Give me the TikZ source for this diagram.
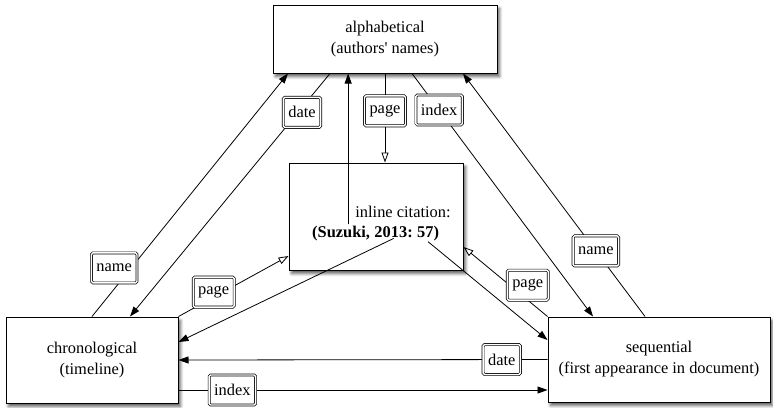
\documentclass[tikz,border=0pt]{standalone}
\usepackage{fontspec}
\setmainfont{Liberation Serif}
\usepackage{tikz}
\usetikzlibrary{positioning}
\usetikzlibrary{calc}
\usetikzlibrary{arrows.meta}
\usetikzlibrary{shadows.blur}
\tikzset{
  citation graph/.style={
    x=1pt, y=-1pt,
    font={\fontsize{16.4}{21}\selectfont},
    main box/.style={rectangle, draw, line width=1pt, fill=white, align=center,
        blur shadow={shadow xshift=2.5pt, shadow yshift=-3.5pt, shadow blur steps=6, shadow blur radius=3pt, shadow opacity=65}},
    tag box/.style={rectangle, draw, double, double distance=1.4pt, line width=0.7pt,
        rounded corners=1.5pt, fill=white, inner xsep=5pt, inner ysep=4pt, minimum height=30pt},
    cite part/.style={font={\fontsize{16.4}{21}\selectfont\bfseries}, inner sep=1pt},
    link/.style={line width=0.8pt, -{Triangle[length=10pt,width=7pt]}},
    open link/.style={line width=0.8pt, -{Triangle[open,length=10pt,width=7pt]}},
  }
}

\begin{document}
\begin{tikzpicture}[citation graph]
    \useasboundingbox (0,0) rectangle (773,407);

    % the four boxes
    \node[main box, minimum width=224pt, minimum height=68pt] (alpha) at (385,39) {alphabetical\\(authors\textquotesingle\ names)};
    \node[main box, minimum width=174pt, minimum height=107pt] (inline) at (376,216.5) {};
    \node[main box, minimum width=172pt, minimum height=86pt] (chrono) at (92,360) {chronological\\(timeline)};
    \node[main box, minimum width=222pt, minimum height=85pt] (seq) at (659,359.5) {sequential\\(first appearance in document)};

    \node[inner sep=0] (citeLabel) at (403,212) {inline citation:};
    \node[cite part, anchor=base west] (citeName) at (311,237) {(Suzuki,};
    \node[cite part, base right=2pt of citeName] (citeYear) {2013:};
    \node[cite part, base right=2pt of citeYear] (citePage) {57)};

    % links
    \draw[link] (chrono.north) -- node[tag box, pos=0.2, xshift=-17pt] (tagNameC) {name} ([xshift=-97pt]alpha.south);
    \draw[link] ([xshift=-55pt]alpha.south) -- node[tag box, pos=0.16, xshift=4pt] (tagDateA) {date} ([xshift=38pt]chrono.north);
    \draw[link] ([xshift=7pt]citeName.north) -- ([xshift=7pt]citeName.north |- alpha.south);
    \draw[open link] (alpha.south) -- node[tag box, pos=0.42] (tagPageA) {page} (alpha.south |- inline.north);
    \draw[link] ([xshift=27pt]alpha.south) -- node[tag box, pos=0.15] (tagIndexA) {index} ([xshift=-66pt]seq.north);
    \draw[link] ([xshift=-14pt]seq.north) -- node[tag box, pos=0.27] (tagNameS) {name} ([xshift=78pt]alpha.south);

    \draw[open link] (chrono.north east) -- node[tag box, pos=0.32, yshift=5pt] (tagPageC) {page} ([yshift=-39.5pt]inline.west);
    \draw[link] (citeYear.south) -- ([yshift=18pt]chrono.east);
    \draw[link] (citePage.south) -- ([yshift=19.5pt]seq.west);
    \draw[open link] (seq.north west) -- node[tag box, pos=0.235, yshift=15pt] (tagPageS) {page} ([yshift=-30.5pt]inline.east);

    \draw[link] (seq.west) -- node[tag box, pos=0.124] (tagDateS) {date} (chrono.east);
    \draw[link] ([yshift=-30pt]chrono.east) -- node[tag box, pos=0.146] (tagIndexC) {index} ([yshift=-30pt]chrono.east -| seq.west);
\end{tikzpicture}
\end{document}
